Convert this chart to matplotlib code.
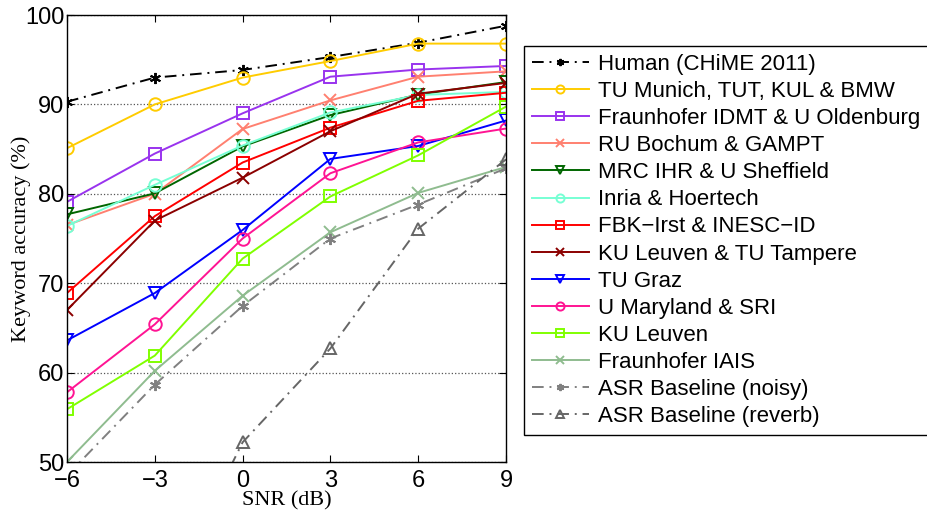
import matplotlib
matplotlib.use("Agg")
import matplotlib.pyplot as plt

snr = [-6, -3, 0, 3, 6, 9]

human = [90.3, 93.0, 93.85, 95.3, 96.9, 98.8]
tu_munich = [85.1, 90.0, 93.0, 94.85, 96.8, 96.8]
fraunhofer_idmt = [79.1, 84.5, 89.0, 93.1, 93.9, 94.3]
ru_bochum = [76.5, 80.0, 87.25, 90.45, 93.1, 93.7]
mrc_ihr = [77.7, 80.05, 85.3, 88.8, 91.1, 92.5]
inria = [76.4, 81.0, 85.4, 89.1, 91.05, 91.4]
fbk_irst = [68.9, 77.5, 83.5, 87.4, 90.4, 91.3]
ku_tut = [67.0, 77.0, 81.8, 87.0, 91.2, 92.4]
tu_graz = [63.6, 68.9, 75.95, 83.9, 85.35, 88.2]
u_maryland = [57.8, 65.4, 75.0, 82.3, 85.75, 87.3]
ku_leuven = [55.9, 61.9, 72.75, 79.7, 84.3, 89.75]
fraunhofer_iais = [50.0, 60.2, 68.6, 75.7, 80.1, 83.0]
asr_noisy = [48.5, 58.65, 67.45, 75.0, 78.8, 82.85]
asr_reverb = [20.0, 32.4, 52.2, 62.7, 76.1, 83.85]

ASTER = (6, 2, 0)  # matlab style '*'

# label, values, colour, marker, dashed?
series = [
    ("Human (CHiME 2011)", human, "black", ASTER, True),
    ("TU Munich, TUT, KUL & BMW", tu_munich, "#FFCC00", "o", False),
    ("Fraunhofer IDMT & U Oldenburg", fraunhofer_idmt, "#9933EE", "s", False),
    ("RU Bochum & GAMPT", ru_bochum, "#FF8070", "x", False),
    ("MRC IHR & U Sheffield", mrc_ihr, "#006600", "v", False),
    ("Inria & Hoertech", inria, "#77FFD4", "o", False),
    ("FBK\u2212Irst & INESC\u2212ID", fbk_irst, "#FF0000", "s", False),
    ("KU Leuven & TU Tampere", ku_tut, "#8B0000", "x", False),
    ("TU Graz", tu_graz, "#0000FF", "v", False),
    ("U Maryland & SRI", u_maryland, "#FF1493", "o", False),
    ("KU Leuven", ku_leuven, "#80FF00", "s", False),
    ("Fraunhofer IAIS", fraunhofer_iais, "#8FBC8F", "x", False),
    ("ASR Baseline (noisy)", asr_noisy, "#808080", ASTER, True),
    ("ASR Baseline (reverb)", asr_reverb, "#666666", "^", True),
]

fig = plt.figure(figsize=(9.27, 5.11), dpi=100)
ax = fig.add_axes([67 / 927, 1 - 462 / 511, (506 - 67) / 927, (462 - 15) / 511])

for label, vals, col, mk, dashed in series:
    line, = ax.plot(snr, vals, color=col, marker=mk,
                    markersize=8 if mk == ASTER else 9,
                    markerfacecolor="none", markeredgecolor=col,
                    markeredgewidth=1.4, linewidth=1.4, label=label)
    if dashed:
        line.set_dashes((6, 3, 1, 3))

ax.set_xlim(-6, 9)
ax.set_ylim(50, 100)
ax.set_xticks(snr)
ax.set_yticks([50, 60, 70, 80, 90, 100])
ax.yaxis.grid(True, linestyle=":", color="#555555", linewidth=0.9)
ax.tick_params(direction="in", top=True, right=True, length=5, labelsize=17)
ax.tick_params(axis="y", pad=2)
ax.tick_params(axis="x", pad=6)
for lab in ax.get_xticklabels() + ax.get_yticklabels():
    lab.set_fontfamily("Liberation Sans")
for sp in ax.spines.values():
    sp.set_linewidth(1.0)

ax.set_xlabel("SNR (dB)", fontfamily="Liberation Serif", fontsize=16, labelpad=-1)
ax.set_ylabel("Keyword accuracy (%)", fontfamily="Liberation Serif", fontsize=16)
ax.yaxis.set_label_coords(-0.082, 0.5)

leg = ax.legend(loc="upper left", bbox_to_anchor=(524 / 927, 1 - 46 / 511),
                bbox_transform=fig.transFigure, borderaxespad=0,
                prop={"family": "Liberation Sans", "size": 16},
                numpoints=1, markerscale=0.65, handlelength=2.57,
                handletextpad=0.4, borderpad=0.35,
                labelspacing=0.275, fancybox=False, edgecolor="black",
                framealpha=1)
leg.get_frame().set_linewidth(1.0)

fig.savefig("out.png", dpi=100)
